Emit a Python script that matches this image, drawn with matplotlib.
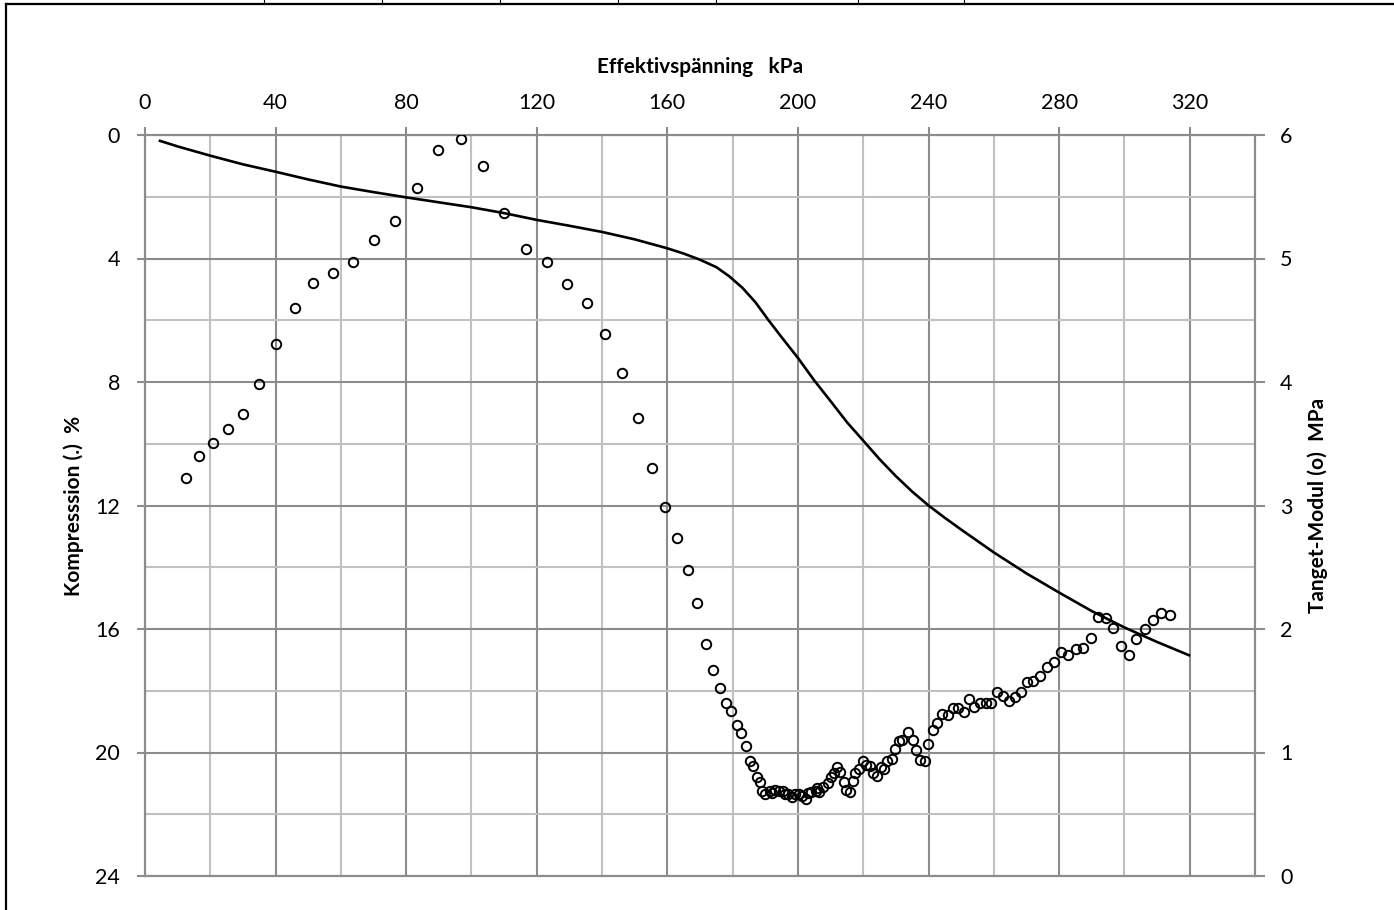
import matplotlib
matplotlib.use('Agg')
import matplotlib.pyplot as plt
from matplotlib.lines import Line2D
from matplotlib.ticker import MultipleLocator

plt.rcParams['font.family'] = ['Lato', 'DejaVu Sans']

# Kompression (left axis, %) against effective stress (kPa)
komp_x = [4.6, 10, 20, 30, 40, 50, 60, 70, 80, 90, 100, 110, 120, 130, 140,
          150, 160, 165, 170, 175, 179, 183, 187, 191, 195, 200, 205, 210,
          215, 220, 225, 230, 235, 240, 245, 250, 260, 270, 280, 290, 300,
          310, 319.8]
komp_y = [0.19, 0.37, 0.67, 0.95, 1.19, 1.44, 1.67, 1.85, 2.02, 2.18, 2.34,
          2.53, 2.75, 2.94, 3.14, 3.38, 3.67, 3.84, 4.04, 4.28, 4.58, 4.95,
          5.42, 6.0, 6.55, 7.22, 7.95, 8.62, 9.3, 9.9, 10.5, 11.05, 11.55,
          12.0, 12.4, 12.78, 13.52, 14.2, 14.82, 15.42, 15.95, 16.42, 16.85]

# Tangent modulus (right axis, MPa)
modul_x = [12.6, 16.6, 20.9, 25.3, 29.9, 35.0, 40.2, 45.8, 51.6, 57.5, 63.7,
           70.0, 76.5, 83.2, 89.9, 96.7, 103.4, 110.1, 116.7, 123.1, 129.3,
           135.3, 141.0, 146.1, 151.0, 155.4, 159.2, 162.9, 166.2, 169.1,
           171.7, 174.0, 176.2, 178.0, 179.6, 181.3, 182.7, 184.1, 185.2,
           186.3, 187.5, 188.5, 189.1, 190.0, 191.3, 192.2, 193.1, 194.2,
           195.3, 196.0, 196.9, 198.2, 199.2, 200.4, 201.3, 202.4, 203.0,
           204.1, 205.4, 205.8, 206.6, 207.6, 209.1, 210.1, 210.9, 212.0,
           213.0, 214.0, 214.7, 215.8, 216.8, 217.6, 218.7, 219.8, 220.9,
           222.1, 223.1, 224.2, 225.4, 226.4, 227.3, 228.7, 229.8, 230.9,
           232.0, 233.6, 235.1, 236.3, 237.5, 238.8, 239.9, 241.3, 242.7,
           244.2, 245.9, 247.4, 249.0, 250.8, 252.5, 254.0, 255.7, 257.5,
           259.2, 261.0, 262.8, 264.5, 266.4, 268.3, 270.2, 272.0, 274.1,
           276.2, 278.4, 280.5, 282.7, 285.1, 287.3, 289.8, 292.0, 294.3,
           296.6, 298.9, 301.4, 303.7, 306.2, 308.7, 311.3, 313.9]
modul_y = [3.22, 3.40, 3.51, 3.62, 3.74, 3.98, 4.31, 4.60, 4.80, 4.88, 4.97,
           5.15, 5.30, 5.57, 5.88, 5.97, 5.75, 5.37, 5.08, 4.97, 4.79,
           4.64, 4.39, 4.07, 3.71, 3.30, 2.99, 2.74, 2.48, 2.21,
           1.88, 1.67, 1.52, 1.40, 1.34, 1.22, 1.16, 1.05, 0.93,
           0.89, 0.80, 0.76, 0.69, 0.66, 0.69, 0.67, 0.70, 0.69,
           0.69, 0.66, 0.66, 0.64, 0.66, 0.66, 0.65, 0.62, 0.67,
           0.68, 0.69, 0.71, 0.68, 0.72, 0.75, 0.80, 0.83, 0.88,
           0.84, 0.76, 0.70, 0.68, 0.77, 0.83, 0.87, 0.93, 0.90,
           0.89, 0.83, 0.81, 0.88, 0.87, 0.93, 0.95, 1.03, 1.09,
           1.10, 1.17, 1.10, 1.02, 0.94, 0.93, 1.07, 1.18, 1.24,
           1.31, 1.30, 1.36, 1.36, 1.33, 1.43, 1.37, 1.40, 1.40,
           1.40, 1.49, 1.46, 1.42, 1.45, 1.49, 1.57, 1.58, 1.62,
           1.69, 1.73, 1.81, 1.79, 1.84, 1.85, 1.93, 2.10, 2.09,
           2.01, 1.86, 1.79, 1.92, 2.00, 2.07, 2.13, 2.11]

major_grey = '#8c8c8c'
minor_grey = '#c0c0c0'

fig = plt.figure(figsize=(13.94, 9.10), dpi=100)
ax = fig.add_axes([145/1394, 1 - 876/910, 1110/1394, 741/910])
ax2 = ax.twinx()

ax.plot(komp_x, komp_y, color='black', lw=1.9, zorder=3)
ax2.plot(modul_x, modul_y, ls='none', marker='o', ms=6.8, mfc='none',
         mec='black', mew=1.4, zorder=3)

ax.set_xlim(0, 340)
ax.set_ylim(24, 0)
ax2.set_ylim(0, 6)

ax.xaxis.set_major_locator(MultipleLocator(40))
ax.xaxis.set_minor_locator(MultipleLocator(20))
ax.yaxis.set_major_locator(MultipleLocator(4))
ax.yaxis.set_minor_locator(MultipleLocator(2))
ax2.yaxis.set_major_locator(MultipleLocator(1))

ax.grid(which='major', color=major_grey, lw=1.5)
ax.grid(which='minor', color=minor_grey, lw=1.5)
ax.set_axisbelow(True)

ax.xaxis.tick_top()
ax.xaxis.set_label_position('top')
ax.tick_params(axis='x', which='major', direction='out', length=6,
               width=1.5, color=major_grey, pad=9.5, labelsize=15.5)
ax.tick_params(axis='y', which='major', direction='out', length=6,
               width=1.5, color=major_grey, pad=12, labelsize=15.5)
ax.tick_params(which='minor', length=0)
ax2.tick_params(axis='y', direction='out', length=7, width=1.5,
                color=major_grey, pad=11, labelsize=15.5)

for a in (ax, ax2):
    for sp in a.spines.values():
        sp.set_color(major_grey)
        sp.set_linewidth(1.5)

ax.set_xlabel('Effektivspänning   kPa', fontsize=15, fontweight='bold',
              labelpad=15)
ax.set_ylabel('Kompresssion (.)  %', fontsize=15, fontweight='bold',
              labelpad=8)
ax2.set_ylabel('Tanget-Modul (o)  MPa', fontsize=15, fontweight='bold',
               labelpad=11)

# page border around the chart
W, H = 1394, 910
fig.add_artist(Line2D([6/W, 1], [1 - 4/H, 1 - 4/H], color='black', lw=1.6))
fig.add_artist(Line2D([6/W, 6/W], [0, 1 - 4/H], color='black', lw=1.6))
for px in [264, 382, 500, 618, 716, 858, 964]:
    fig.add_artist(Line2D([px/W, px/W], [1 - 4/H, 1], color='black', lw=0.8))

fig.savefig('out.png', dpi=100)
